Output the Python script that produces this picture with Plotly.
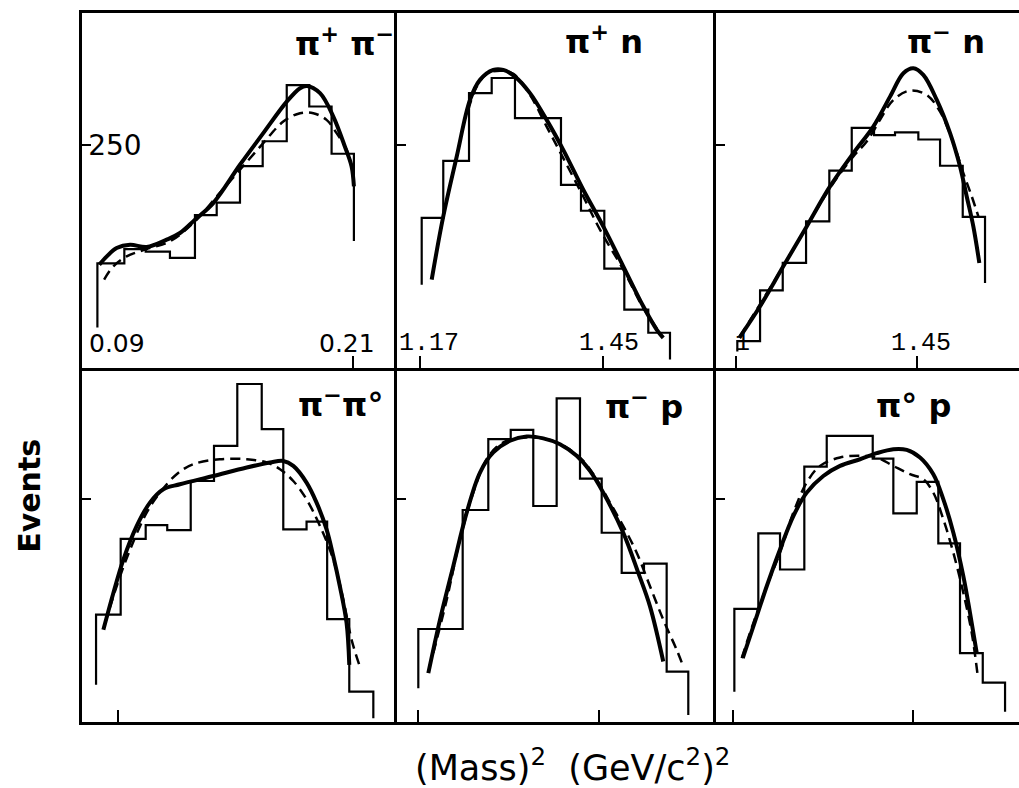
import plotly.graph_objects as go
from plotly.subplots import make_subplots

# ---------------- data (events vs mass^2, GeV^2) ----------------
# pi+ pi-
pipi_edges = [0.0772, 0.0912, 0.1023, 0.1149, 0.1279, 0.1392, 0.1513, 0.1631, 0.1756, 0.1873, 0.1989, 0.2105]
pipi_counts = [117, 133, 130, 123, 171, 185, 226, 254, 317, 293, 240]
pipi_stubs = [45, 142]
pipi_solid_x = [0.0782, 0.0821, 0.0872, 0.0942, 0.1028, 0.1132, 0.1201, 0.1279, 0.1374, 0.1513, 0.1634, 0.1756, 0.1825, 0.1860, 0.1929, 0.1998, 0.2058, 0.2093, 0.2105]
pipi_solid_y = [115.5, 124.8, 134.2, 137.9, 135.3, 143.5, 151.0, 165.9, 184.6, 227.6, 263.1, 298.5, 313.6, 316.1, 308.0, 281.7, 248.1, 225.7, 203.3]
pipi_dash_x = [0.0807, 0.0855, 0.0924, 0.1028, 0.1149, 0.1279, 0.1392, 0.1513, 0.1634, 0.1738, 0.1825, 0.1894, 0.1963, 0.2015, 0.2067, 0.2102]
pipi_dash_y = [98.7, 113.6, 124.8, 133.0, 141.6, 164.0, 192.0, 222.0, 251.9, 276.1, 285.5, 285.5, 278.0, 263.1, 244.4, 218.3]

# pi+ n
pipn_edges = [1.1726, 1.2056, 1.2450, 1.2797, 1.3153, 1.3501, 1.3857, 1.4163, 1.4520, 1.4826, 1.5193, 1.5525]
pipn_counts = [168, 232, 308, 325, 280, 280, 205, 176, 111, 65, 39]
pipn_stubs = [93, 9]
pipn_solid_x = [1.1879, 1.2056, 1.2262, 1.2465, 1.2618, 1.2821, 1.2974, 1.3153, 1.3383, 1.3638, 1.3892, 1.4198, 1.4504, 1.4810, 1.5116, 1.5321, 1.5422]
pipn_solid_y = [98.7, 169.6, 236.9, 300.4, 322.9, 334.1, 334.1, 326.6, 308.0, 278.0, 244.4, 199.6, 158.4, 113.6, 68.7, 42.6, 33.3]
pipn_dash_x = [1.2439, 1.2567, 1.2721, 1.2924, 1.3128, 1.3383, 1.3638, 1.3892, 1.4198, 1.4454, 1.4810, 1.5116, 1.5372]
pipn_dash_y = [289.2, 315.4, 329.6, 333.3, 329.6, 306.0, 270.5, 235.1, 192.0, 154.7, 109.9, 66.9, 38.9]

# pi- n
pimn_edges = [1.1720, 1.2072, 1.2423, 1.2784, 1.3144, 1.3491, 1.3836, 1.4161, 1.4522, 1.4858, 1.5209, 1.5554]
pimn_counts = [29.5, 86.7, 117.4, 164, 221, 269, 261, 264, 256, 226.5, 169]
pimn_stubs = [18, 95]
pimn_solid_x = [1.1751, 1.2072, 1.2432, 1.2794, 1.3155, 1.3516, 1.3825, 1.4084, 1.4290, 1.4445, 1.4599, 1.4807, 1.5013, 1.5167, 1.5271, 1.5373, 1.5466]
pimn_solid_y = [33.3, 68.7, 113.6, 158.4, 203.3, 240.7, 270.5, 304.1, 330.4, 336.0, 328.5, 300.4, 263.1, 225.7, 192.0, 158.4, 117.4]
pimn_dash_x = [1.1762, 1.2432, 1.3155, 1.3516, 1.3723, 1.3929, 1.4135, 1.4393, 1.4652, 1.4858, 1.5064, 1.5219, 1.5349, 1.5451]
pimn_dash_y = [35.1, 113.6, 201.5, 236.9, 253.7, 278.0, 300.4, 310.9, 306.0, 287.3, 251.9, 218.3, 192.0, 169.6]

# pi- pi0
pimpi0_edges = [0.0765, 0.0893, 0.1023, 0.1135, 0.1257, 0.1378, 0.1499, 0.1626, 0.1738, 0.1859, 0.1966, 0.2081, 0.2206]
pimpi0_counts = [120.5, 205.7, 221, 215.5, 270.6, 310, 379.5, 328.8, 216.2, 225, 115.6, 34.1]
pimpi0_stubs = [41.7, 4.1]
pimpi0_solid_x = [0.0803, 0.0855, 0.0907, 0.0976, 0.1045, 0.1115, 0.1201, 0.1374, 0.1548, 0.1669, 0.1738, 0.1790, 0.1859, 0.1911, 0.1963, 0.1998, 0.2032, 0.2067, 0.2081]
pimpi0_solid_y = [103.6, 144.9, 182.4, 219.9, 246.3, 261.3, 266.9, 276.2, 285.7, 291.3, 293.1, 287.5, 268.8, 246.3, 216.2, 186.1, 152.4, 111.1, 64.2]
pimpi0_dash_x = [0.0812, 0.0872, 0.0942, 0.1028, 0.1097, 0.1184, 0.1270, 0.1409, 0.1548, 0.1652, 0.1721, 0.1790, 0.1859, 0.1929, 0.1998, 0.2050, 0.2093, 0.2133]
pimpi0_dash_y = [111.1, 152.4, 193.7, 235.0, 257.5, 278.2, 289.4, 295.0, 295.0, 291.3, 283.8, 270.6, 250.0, 219.9, 182.4, 137.4, 92.3, 64.2]

# pi- p
pimp_edges = [1.1674, 1.2011, 1.2353, 1.2745, 1.3088, 1.3433, 1.3791, 1.4148, 1.4480, 1.4786, 1.5127, 1.5474, 1.5805]
pimp_counts = [104.4, 104.4, 238, 317.6, 328, 242.5, 363.4, 273.3, 212.5, 167.4, 177.9, 56.6]
pimp_stubs = [37.9, 7.9]
pimp_solid_x = [1.1827, 1.2006, 1.2209, 1.2414, 1.2618, 1.2821, 1.3077, 1.3332, 1.3586, 1.3842, 1.4097, 1.4301, 1.4504, 1.4810, 1.5040, 1.5219, 1.5422]
pimp_solid_y = [54.8, 114.9, 174.9, 235.0, 280.1, 302.6, 315.7, 320.6, 318.4, 311.9, 298.8, 281.9, 257.5, 212.5, 167.4, 129.8, 67.9]
pimp_dash_x = [1.1903, 1.2109, 1.2312, 1.2515, 1.2720, 1.2924, 1.3179, 1.3433, 1.3689, 1.3944, 1.4198, 1.4404, 1.4607, 1.4810, 1.5016, 1.5219, 1.5422, 1.5627, 1.5728]
pimp_dash_y = [77.4, 137.4, 205.0, 257.5, 295.0, 311.9, 318.4, 319.5, 316.8, 308.2, 293.1, 272.5, 246.3, 219.9, 190.0, 152.4, 114.9, 81.1, 62.3]

# pi0 p
pi0p_edges = [1.1674, 1.2045, 1.2381, 1.2757, 1.3104, 1.3465, 1.3816, 1.4135, 1.4497, 1.4831, 1.5167, 1.5519, 1.5864]
pi0p_counts = [126.9, 211.7, 171.2, 286.8, 321.3, 321.3, 295.8, 234.2, 269.5, 200.5, 77.4, 44.3]
pi0p_stubs = [34.1, 11.6]
pi0p_solid_x = [1.1804, 1.1968, 1.2175, 1.2381, 1.2587, 1.2794, 1.3051, 1.3310, 1.3619, 1.3878, 1.4135, 1.4342, 1.4548, 1.4754, 1.4909, 1.5064, 1.5219, 1.5322, 1.5426]
pi0p_solid_y = [71.7, 107.3, 152.4, 193.7, 231.2, 257.5, 276.2, 287.5, 295.0, 301.8, 306.3, 305.5, 297.0, 278.2, 250.0, 212.5, 163.6, 122.4, 77.4]
pi0p_dash_x = [1.1788, 1.1968, 1.2175, 1.2381, 1.2587, 1.2794, 1.3000, 1.3310, 1.3619, 1.3878, 1.4135, 1.4393, 1.4599, 1.4754, 1.4909, 1.5064, 1.5219, 1.5349, 1.5436]
pi0p_dash_y = [71.7, 111.1, 152.4, 190.0, 235.0, 268.8, 287.5, 297.0, 298.8, 297.0, 287.5, 278.2, 272.5, 257.5, 227.5, 190.0, 144.9, 99.9, 54.8]

# axis ticks
col_ranges = [[0.0692, 0.2329], [1.1348, 1.6229], [1.1390, 1.6080]]
top_tickvals = [[0.09, 0.21], [1.17, 1.45], [1.17, 1.45]]
top_ticktext = [["0.09", "0.21"], ["1.17", "1.45"], ["1", "1.45"]]
bot_tickvals = [[0.088], [1.167, 1.444], [1.165, 1.444]]
y_range = [0, 398]
y_tickvals = [250]
y_ticktext = ["250"]

labels = ["<b>π<sup>+</sup> π<sup>−</sup></b>", "<b>π<sup>+</sup> n</b>", "<b>π<sup>−</sup> n</b>",
          "<b>π<sup>−</sup>π°</b>", "<b>π<sup>−</sup> p</b>", "<b>π° p</b>"]
label_pos = [(0.996, 0.918), (0.777, 0.924), (0.894, 0.924),
             (0.962, 0.901), (0.903, 0.895), (0.782, 0.890)]

panels = [
    (1, 1, pipi_edges, pipi_counts, pipi_stubs, pipi_solid_x, pipi_solid_y, pipi_dash_x, pipi_dash_y),
    (1, 2, pipn_edges, pipn_counts, pipn_stubs, pipn_solid_x, pipn_solid_y, pipn_dash_x, pipn_dash_y),
    (1, 3, pimn_edges, pimn_counts, pimn_stubs, pimn_solid_x, pimn_solid_y, pimn_dash_x, pimn_dash_y),
    (2, 1, pimpi0_edges, pimpi0_counts, pimpi0_stubs, pimpi0_solid_x, pimpi0_solid_y, pimpi0_dash_x, pimpi0_dash_y),
    (2, 2, pimp_edges, pimp_counts, pimp_stubs, pimp_solid_x, pimp_solid_y, pimp_dash_x, pimp_dash_y),
    (2, 3, pi0p_edges, pi0p_counts, pi0p_stubs, pi0p_solid_x, pi0p_solid_y, pi0p_dash_x, pi0p_dash_y),
]

# horizontal nudges (px) of the top-row tick labels relative to their ticks
tick_label_shift = [[-5, -6], [9, 6], [6, 4]]


def step_line(edges, counts, stubs):
    xs = [edges[0]]
    ys = [stubs[0]]
    for i, c in enumerate(counts):
        xs += [edges[i], edges[i + 1]]
        ys += [c, c]
    xs.append(edges[-1])
    ys.append(stubs[1])
    return xs, ys


fig = make_subplots(rows=2, cols=3, horizontal_spacing=0, vertical_spacing=0,
                    column_widths=[315, 319, 303])

for (r, c, edges, counts, stubs, sx, sy, dx, dy) in panels:
    hx, hy = step_line(edges, counts, stubs)
    fig.add_trace(go.Scatter(x=hx, y=hy, mode="lines",
                             line=dict(color="black", width=2.2), showlegend=False,
                             hoverinfo="skip"), row=r, col=c)
    fig.add_trace(go.Scatter(x=dx, y=dy, mode="lines", line_shape="spline",
                             line=dict(color="black", width=2.5, dash="10px,6px"),
                             showlegend=False, hoverinfo="skip"), row=r, col=c)
    fig.add_trace(go.Scatter(x=sx, y=sy, mode="lines", line_shape="spline",
                             line=dict(color="black", width=4), showlegend=False,
                             hoverinfo="skip"), row=r, col=c)

for r in (1, 2):
    for c in (1, 2, 3):
        idx = (r - 1) * 3 + c
        tv = top_tickvals[c - 1] if r == 1 else bot_tickvals[c - 1]
        fig.update_xaxes(range=col_ranges[c - 1], showline=True, linecolor="black", linewidth=2.5,
                         mirror=(r == 1), ticks="inside", ticklen=12, tickwidth=2, tickcolor="black",
                         tickvals=tv, showticklabels=False,
                         showgrid=False, zeroline=False, fixedrange=True, row=r, col=c)
        fig.update_yaxes(range=y_range, showline=True, linecolor="black", linewidth=2.5,
                         mirror=False, ticks="inside", ticklen=9, tickwidth=2, tickcolor="black",
                         tickvals=y_tickvals, ticktext=y_ticktext,
                         showticklabels=(r == 1 and c == 1), ticklabelposition="inside",
                         tickfont=dict(family="DejaVu Sans", size=28, color="black"),
                         showgrid=False, zeroline=False, fixedrange=True, row=r, col=c)
        xs = "x" if idx == 1 else f"x{idx}"
        ys = "y" if idx == 1 else f"y{idx}"
        fig.add_annotation(text=labels[idx - 1], xref=f"{xs} domain", yref=f"{ys} domain",
                           x=label_pos[idx - 1][0], y=label_pos[idx - 1][1],
                           xanchor="right", yanchor="middle", showarrow=False,
                           font=dict(family="DejaVu Sans", size=32, color="black"))
        if r == 1:
            fam = "DejaVu Sans" if c == 1 else "Liberation Mono"
            for v, t, sh in zip(top_tickvals[c - 1], top_ticktext[c - 1], tick_label_shift[c - 1]):
                fig.add_annotation(text=t, xref=xs, yref=f"{ys} domain", x=v, y=0.068,
                                   xshift=sh, xanchor="center", yanchor="middle", showarrow=False,
                                   font=dict(family=fam, size=25, color="black"))

fig.add_annotation(text="<b>Events</b>", xref="paper", yref="paper", x=-0.0555, y=0.319,
                   textangle=-90, showarrow=False, xanchor="center", yanchor="middle",
                   font=dict(family="DejaVu Sans", size=30, color="black"))
fig.add_annotation(text="(Mass)<sup>2</sup>  (GeV/c<sup>2</sup>)<sup>2</sup>", xref="paper", yref="paper",
                   x=0.523, y=-0.0606, showarrow=False, xanchor="center", yanchor="middle",
                   font=dict(family="DejaVu Sans", size=35, color="black"))

fig.update_layout(width=1019, height=788, margin=dict(l=82, r=0, t=13, b=66),
                  paper_bgcolor="white", plot_bgcolor="white", showlegend=False)

fig.write_html("out.html")
